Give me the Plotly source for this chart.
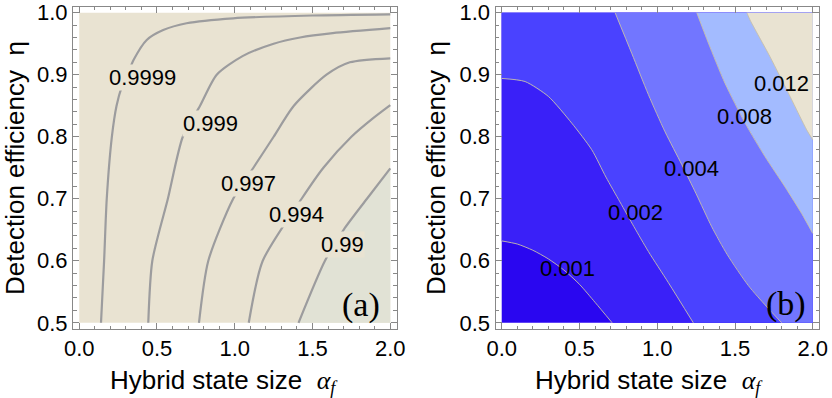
import plotly.graph_objects as go

# plane covered by both panels
ALPHA_RANGE = [0.0, 2.0]
ETA_RANGE = [0.5, 1.0]

# (a) fidelity contour lines
fid_levels = ["0.9999", "0.999", "0.997", "0.994", "0.99"]
fid_alpha = [
    [0.14, 0.16, 0.177, 0.21, 0.24, 0.273, 0.31, 0.35, 0.434, 0.54, 0.69, 0.99, 1.5, 2.0],
    [0.444, 0.47, 0.57, 0.666, 0.777, 0.884, 1.05, 1.25, 1.42, 1.63, 2.0],
    [0.77, 0.83, 0.99, 1.12, 1.25, 1.38, 1.59, 1.74, 2.0],
    [1.09, 1.18, 1.43, 1.57, 1.75, 1.89, 2.0],
    [1.41, 1.58, 1.70, 1.85, 2.0],
]
fid_eta = [
    [0.5, 0.6, 0.7, 0.8, 0.85, 0.88, 0.9, 0.924, 0.956, 0.972, 0.983, 0.991, 0.9955, 0.9974],
    [0.5, 0.6, 0.7, 0.8, 0.85, 0.9, 0.93, 0.95, 0.96, 0.967, 0.975],
    [0.5, 0.6, 0.7, 0.75, 0.8, 0.85, 0.9, 0.92, 0.9265],
    [0.5, 0.6, 0.7, 0.75, 0.8, 0.83, 0.851],
    [0.5, 0.6, 0.65, 0.7, 0.749],
]
fid_label_alpha = [0.407, 0.846, 1.086, 1.394, 1.69]
fid_label_eta = [0.895, 0.822, 0.725, 0.675, 0.627]

# (b) error contour lines
err_levels = ["0.001", "0.002", "0.004", "0.008", "0.012"]
err_alpha = [
    [0.0, 0.1, 0.2, 0.3, 0.4, 0.5, 0.6, 0.71],
    [0.0, 0.15, 0.30, 0.45, 0.579, 0.67, 0.76, 0.85, 0.943, 1.071, 1.232],
    [0.729, 0.836, 0.943, 1.05, 1.158, 1.25, 1.35, 1.45, 1.586, 1.70, 1.80],
    [1.254, 1.329, 1.436, 1.565, 1.693, 1.822, 1.929, 2.0],
    [1.576, 1.597, 1.725, 1.854, 1.961, 2.0],
]
err_eta = [
    [0.632, 0.627, 0.617, 0.603, 0.585, 0.562, 0.533, 0.5],
    [0.894, 0.889, 0.865, 0.822, 0.779, 0.735, 0.695, 0.655, 0.615, 0.565, 0.5],
    [1.0, 0.9345, 0.868, 0.808, 0.755, 0.708, 0.655, 0.61, 0.56, 0.527, 0.5],
    [1.0, 0.951, 0.886, 0.822, 0.768, 0.719, 0.676, 0.644],
    [1.0, 0.988, 0.929, 0.865, 0.811, 0.795],
]
err_label_alpha = [0.42, 0.857, 1.217, 1.558, 1.80]
err_label_eta = [0.588, 0.678, 0.749, 0.832, 0.886]

BEIGE = "#e9e3d2"
band_colors = ["#2a06f0", "#3a20f8", "#4a42ff", "#7276ff", "#a3bbff", BEIGE]
FONT = "Liberation Sans, Arial, sans-serif"
SERIF = "Liberation Serif, Times New Roman, serif"
W, H = 832, 398


def region_above(xs, ys):
    """close a contour through the upper-right corners of the plane"""
    x0, x1 = ALPHA_RANGE
    y0, y1 = ETA_RANGE
    px, py = list(xs), list(ys)
    if py[-1] == y0:
        px += [x1, x1]
        py += [y0, y1]
    elif px[-1] == x1:
        px += [x1]
        py += [y1]
    if px[0] == x0:
        px += [x0]
        py += [y1]
    return px, py


fig = go.Figure()

# panel (a): light lower-right band beyond the 0.99 line
fx = list(fid_alpha[-1]) + [ALPHA_RANGE[1]]
fy = list(fid_eta[-1]) + [ETA_RANGE[0]]
fig.add_trace(go.Scatter(x=fx, y=fy, fill="toself", fillcolor="#e1e2d5",
                         line=dict(width=0), mode="lines", hoverinfo="skip",
                         xaxis="x", yaxis="y"))
for xs, ys in zip(fid_alpha, fid_eta):
    fig.add_trace(go.Scatter(x=xs, y=ys, mode="lines",
                             line=dict(color="#9c9c9e", width=2.2, shape="spline", smoothing=0.7),
                             hoverinfo="skip", xaxis="x", yaxis="y"))

# panel (b): stacked bands
for i, (xs, ys) in enumerate(zip(err_alpha, err_eta)):
    px, py = region_above(xs, ys)
    fig.add_trace(go.Scatter(x=px, y=py, fill="toself", fillcolor=band_colors[i + 1],
                             line=dict(width=0), mode="lines", hoverinfo="skip",
                             xaxis="x2", yaxis="y2"))
for xs, ys in zip(err_alpha, err_eta):
    fig.add_trace(go.Scatter(x=xs, y=ys, mode="lines",
                             line=dict(color="rgba(200,192,170,0.9)", width=1,
                                       shape="spline", smoothing=0.7),
                             hoverinfo="skip", xaxis="x2", yaxis="y2"))

shapes = [
    dict(type="rect", xref="x", yref="y", x0=ALPHA_RANGE[0], x1=ALPHA_RANGE[1],
         y0=ETA_RANGE[0], y1=ETA_RANGE[1], fillcolor=BEIGE, line_width=0, layer="below"),
    dict(type="rect", xref="x2", yref="y2", x0=ALPHA_RANGE[0], x1=ALPHA_RANGE[1],
         y0=ETA_RANGE[0], y1=ETA_RANGE[1], fillcolor=band_colors[0], line_width=0, layer="below"),
]

annotations = []
for t, ax_, ay_ in zip(fid_levels, fid_label_alpha, fid_label_eta):
    annotations.append(dict(x=ax_, y=ay_, xref="x", yref="y", text=t, showarrow=False,
                            font=dict(family=FONT, size=22, color="black"),
                            bgcolor=BEIGE, borderpad=0))
for t, ax_, ay_ in zip(err_levels, err_label_alpha, err_label_eta):
    annotations.append(dict(x=ax_, y=ay_, xref="x2", yref="y2", text=t, showarrow=False,
                            font=dict(family=FONT, size=22, color="black")))
annotations += [
    dict(x=1.812, y=0.529, xref="x", yref="y", text="(a)", showarrow=False,
         font=dict(family=SERIF, size=34, color="black")),
    dict(x=1.825, y=0.531, xref="x2", yref="y2", text="(b)", showarrow=False,
         font=dict(family=SERIF, size=34, color="black")),
]
xtitle = ('Hybrid state size  <span style="font-family:Liberation Serif">'
          '<i>α</i><sub><i>f</i></sub></span>')
for cx in [224, 649]:
    annotations.append(dict(x=cx / W, y=1 - 381 / H, xref="paper", yref="paper",
                            text=xtitle, showarrow=False, xanchor="center", yanchor="middle",
                            font=dict(family=FONT, size=26, color="black")))
for cx in [15, 436]:
    annotations.append(dict(x=cx / W, y=1 - 168 / H, xref="paper", yref="paper",
                            text="Detection efficiency  η", showarrow=False, textangle=-90,
                            xanchor="center", yanchor="middle",
                            font=dict(family=FONT, size=26, color="black")))

xcommon = dict(range=[-0.04, 2.04], tick0=0, dtick=0.5, tickformat=".1f",
               ticks="inside", ticklen=6, tickcolor="#888888", mirror="allticks",
               showline=True, linecolor="#888888", linewidth=1, showgrid=False,
               zeroline=False, automargin=False,
               tickfont=dict(family=FONT, size=22, color="black"),
               minor=dict(ticks="inside", ticklen=3.5, dtick=0.1, tickcolor="#888888"))
ycommon = dict(range=[0.49, 1.01], tick0=0.5, dtick=0.1, tickformat=".1f",
               ticks="inside", ticklen=6, tickcolor="#888888", mirror="allticks",
               showline=True, linecolor="#888888", linewidth=1, showgrid=False,
               zeroline=False, automargin=False,
               tickfont=dict(family=FONT, size=22, color="black"),
               minor=dict(ticks="inside", ticklen=3.5, dtick=0.02, tickcolor="#888888"),
               domain=[1 - 329 / H, 1 - 6.5 / H])

fig.update_layout(
    width=W, height=H,
    margin=dict(l=0, r=0, t=0, b=0),
    paper_bgcolor="white", plot_bgcolor="white",
    showlegend=False,
    xaxis=dict(xcommon, domain=[73 / W, 396.5 / W], anchor="y"),
    yaxis=dict(ycommon, anchor="x"),
    xaxis2=dict(xcommon, domain=[495.5 / W, 819 / W], anchor="y2"),
    yaxis2=dict(ycommon, anchor="x2"),
    shapes=shapes,
    annotations=annotations,
)

# the page body has a default margin; drop it so the figure fills the window
fig.write_html("out.html", config={"displayModeBar": False},
               post_script="document.body.style.margin = '0px';")
